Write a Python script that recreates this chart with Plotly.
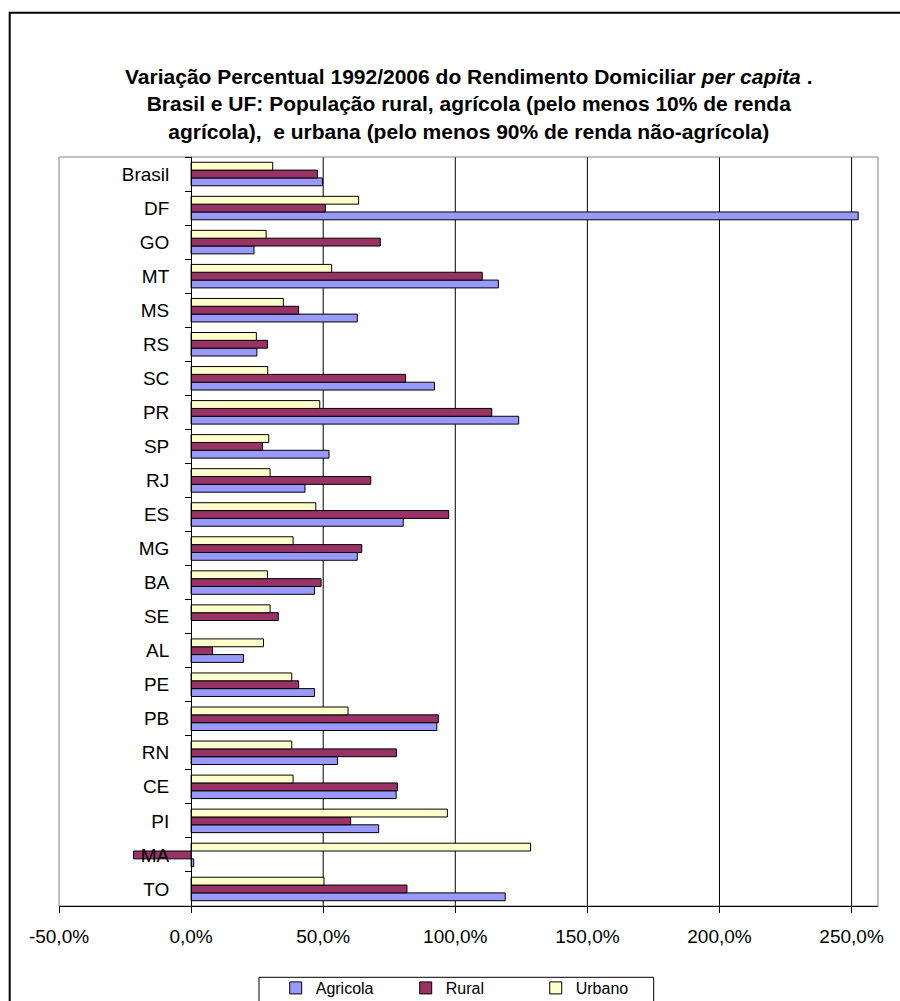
import plotly.graph_objects as go

# Unidades da Federação, de cima para baixo
categorias = ["Brasil", "DF", "GO", "MT", "MS", "RS", "SC", "PR", "SP", "RJ", "ES",
              "MG", "BA", "SE", "AL", "PE", "PB", "RN", "CE", "PI", "MA", "TO"]

# Variação percentual 1992/2006 (%)
agricola = [49.7, 252.5, 23.8, 116.3, 62.9, 24.9, 92.1, 124.0, 52.2, 43.1, 80.3,
            62.9, 46.7, None, 19.8, 46.7, 93.0, 55.4, 77.6, 71.0, 1.0, 118.9]
rural = [47.8, 50.8, 71.6, 110.2, 40.7, 28.9, 81.2, 113.8, 27.0, 68.0, 97.5,
         64.6, 49.2, 33.0, 8.1, 40.7, 93.6, 77.7, 78.1, 60.4, -21.8, 81.7]
urbano = [30.9, 63.4, 28.4, 53.2, 34.9, 24.7, 29.0, 48.7, 29.4, 29.9, 47.2,
          38.6, 28.9, 29.9, 27.4, 38.1, 59.4, 38.1, 38.6, 97.0, 128.5, 50.3]

x_ticks = [-50, 0, 50, 100, 150, 200, 250]
x_min, x_max = -50, 260

FONT = "Liberation Sans, Arial, sans-serif"

series = [
    ("Agricola", agricola, "#9999FF"),
    ("Rural", rural, "#993366"),
    ("Urbano", urbano, "#FFFFCC"),
]

fig = go.Figure()
for nome, valores, cor in series:
    fig.add_trace(go.Bar(
        y=categorias, x=valores, name=nome, orientation="h",
        marker=dict(color=cor, line=dict(color="black", width=1)),
    ))

shapes = []
# linhas de grade verticais
for v in x_ticks:
    if v > 0:
        shapes.append(dict(type="line", xref="x", yref="paper", x0=v, x1=v, y0=0, y1=1,
                           line=dict(color="black", width=1), layer="below"))
# moldura da área de plotagem
shapes.append(dict(type="rect", xref="paper", yref="paper", x0=0, x1=1, y0=0, y1=1,
                   line=dict(color="#808080", width=1), layer="below"))
# moldura externa do gráfico
shapes.append(dict(type="rect", xref="paper", yref="paper", x0=-0.0602, x1=1.06,
                   y0=-0.2, y1=1.1927, line=dict(color="black", width=2), layer="below"))
# caixa da legenda
shapes.append(dict(type="rect", xref="paper", yref="paper", x0=0.2442, x1=0.7261,
                   y0=-0.2, y1=-0.0952, line=dict(color="black", width=1), layer="below"))

titulo = ("<b>Variação Percentual 1992/2006 do Rendimento Domiciliar <i>per capita</i> .</b><br>"
          "<b>Brasil e UF: População rural, agrícola (pelo menos 10% de renda</b><br>"
          "<b>agrícola),  e urbana (pelo menos 90% de renda não-agrícola)</b>")

fig.update_layout(
    width=900, height=1001,
    margin=dict(l=59, r=22, t=157, b=95, autoexpand=False),
    paper_bgcolor="white", plot_bgcolor="white",
    font=dict(family=FONT, color="black"),
    annotations=[dict(text=titulo, xref="paper", yref="paper", x=0.5, y=1.0712,
                      xanchor="center", yanchor="middle", showarrow=False,
                      align="center", font=dict(family=FONT, size=21, color="black"))],
    barmode="group", bargap=0.31, bargroupgap=0,
    xaxis=dict(
        range=[x_min, x_max], tickvals=x_ticks,
        ticktext=[f"{v:.1f}%".replace(".", ",") for v in x_ticks],
        ticks="outside", ticklen=6, tickcolor="black",
        showline=True, linecolor="black", linewidth=1,
        showgrid=False, zeroline=False, ticklabelstandoff=7,
        tickfont=dict(family=FONT, size=19, color="black"),
    ),
    yaxis=dict(
        type="category", categoryorder="array", categoryarray=categorias[::-1],
        range=[-0.5, len(categorias) - 0.5],
        anchor="free", position=(0 - x_min) / (x_max - x_min),
        showline=True, linecolor="black", linewidth=1,
        ticks="outside", tickson="boundaries", ticklen=6, tickcolor="black",
        ticklabelstandoff=18, showgrid=False, zeroline=False, automargin=False,
        tickfont=dict(family=FONT, size=19, color="black"),
    ),
    legend=dict(
        orientation="h", x=0.2646, xanchor="left", y=-0.0868, yanchor="top",
        borderwidth=0, bgcolor="rgba(0,0,0,0)",
        entrywidthmode="pixels", entrywidth=85,
        font=dict(family=FONT, size=16, color="black"), traceorder="normal",
    ),
    shapes=shapes,
)

fig.write_html("out.html")
